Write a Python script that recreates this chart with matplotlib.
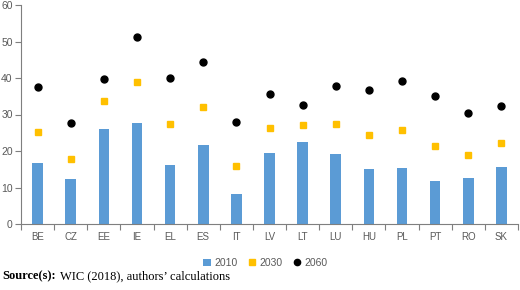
import matplotlib
matplotlib.use("Agg")
import matplotlib.pyplot as plt
import numpy as np

countries = ["BE", "CZ", "EE", "IE", "EL", "ES", "IT", "LV", "LT", "LU", "HU", "PL", "PT", "RO", "SK"]
v2010 = [16.6, 12.2, 25.9, 27.6, 16.3, 21.6, 8.2, 19.4, 22.5, 19.1, 15.0, 15.3, 11.7, 12.5, 15.5]
v2030 = [25.1, 17.9, 33.6, 39.0, 27.3, 32.1, 15.8, 26.3, 27.0, 27.5, 24.3, 25.8, 21.5, 18.8, 22.2]
v2060 = [37.4, 27.6, 39.6, 51.3, 40.0, 44.3, 27.9, 35.5, 32.6, 37.7, 36.7, 39.2, 35.1, 30.5, 32.2]
yticks = [0, 10, 20, 30, 40, 50, 60]

plt.rcParams['font.family'] = ['Liberation Sans', 'DejaVu Sans']
fig = plt.figure(figsize=(5.2, 2.9), dpi=100)
ax = fig.add_axes([21/520, 1-224/290, (518-21)/520, (224-5)/290])
x = np.arange(len(countries))
gray = '#595959'
h1 = ax.bar(x, v2010, width=0.32, color='#5B9BD5', label='2010', zorder=2)
h2, = ax.plot(x, v2030, 's', color='#FFC000', markersize=4.8, label='2030', linestyle='none', zorder=3)
h3, = ax.plot(x, v2060, 'o', color='black', markersize=5, label='2060', linestyle='none', zorder=3)
ax.set_xlim(-0.5, len(countries)-0.5)
ax.set_ylim(0, 60)
ax.set_yticks(yticks)
ax.set_yticklabels([str(t) for t in yticks], color=gray, fontsize=7.5)
ax.set_xticks(np.arange(-0.5, len(countries)), minor=False)
ax.set_xticklabels([])
ax.set_xticks(x, minor=True)
ax.set_xticklabels(countries, minor=True, color=gray, fontsize=7)
ax.tick_params(axis='x', which='major', direction='out', length=4, color='#7f7f7f')
ax.tick_params(axis='x', which='minor', length=0, pad=6)
ax.tick_params(axis='y', direction='out', length=4, color='#7f7f7f', pad=2)
for s in ['top', 'right']:
    ax.spines[s].set_visible(False)
for s in ['left', 'bottom']:
    ax.spines[s].set_color('#7f7f7f')
    ax.spines[s].set_linewidth(0.8)
leg = fig.legend(handles=[h1, h2, h3], labels=['2010', '2030', '2060'],
                 loc='center', bbox_to_anchor=(265/520, 1-263/290), ncol=3, frameon=False,
                 fontsize=7.5, handlelength=0.8, handletextpad=0.3, columnspacing=1.0,
                 markerscale=0.9)
for t in leg.get_texts():
    t.set_color(gray)
t1 = fig.text(2/520, 1-276/290, "Source(s):", family='Liberation Serif', fontweight='bold',
              fontsize=9, va='center', ha='left')
fig.canvas.draw()
bb = t1.get_window_extent()
fig.text((bb.x1 + 4)/520, 1-276/290, "WIC (2018), authors’ calculations",
         family='Liberation Serif', fontsize=9, va='center', ha='left')
fig.savefig('out.png', dpi=100)
